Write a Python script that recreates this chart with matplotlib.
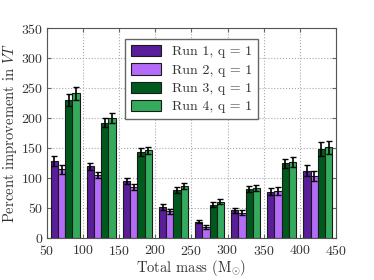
import numpy as np
import matplotlib
matplotlib.use('Agg')
import matplotlib.pyplot as plt

plt.rcParams['font.family'] = 'cmr10'
plt.rcParams['mathtext.fontset'] = 'cm'
plt.rcParams['axes.formatter.use_mathtext'] = True

# group starting masses (left edge of each group of bars)
group_left = [55, 105, 155, 205, 255, 305, 355, 405]
bar_width = 10

labels = ['Run 1, q = 1', 'Run 2, q = 1', 'Run 3, q = 1', 'Run 4, q = 1']
colors = ['#5a1e9a', '#b46cf8', '#005a1e', '#33aa5c']

run1 = [128, 119, 95, 51, 27, 46, 77, 112]
run2 = [114, 105, 85, 44, 18, 42, 78, 103]
run3 = [230, 192, 143, 79, 55, 81, 124, 148]
run4 = [241, 200, 146, 86, 60, 83, 126, 151]
err1 = [8, 6, 5, 5, 3, 4, 6, 9]
err2 = [8, 5, 5, 4, 3, 4, 7, 9]
err3 = [10, 8, 6, 5, 4, 5, 8, 11]
err4 = [11, 8, 6, 5, 4, 5, 8, 11]

runs = [run1, run2, run3, run4]
errs = [err1, err2, err3, err4]

fig = plt.figure(figsize=(3.74, 2.80), dpi=100)
ax = fig.add_axes([0.126, 0.151, 0.772, 0.749])

for j in range(4):
    x = np.array(group_left) + j * bar_width
    ax.bar(x, runs[j], width=bar_width, align='edge', color=colors[j],
           edgecolor='#1a1a1a', linewidth=0.8, label=labels[j], zorder=2)
    ax.errorbar(x + bar_width / 2, runs[j], yerr=errs[j], fmt='none',
                ecolor='black', elinewidth=1.2, capsize=2, capthick=1, zorder=3)

ax.set_xlim(50, 450)
ax.set_ylim(0, 350)
ax.set_xticks(range(50, 451, 50))
ax.set_yticks(range(0, 351, 50))
ax.grid(True, linestyle=':', color='#aaaaaa', linewidth=0.8, zorder=0)
ax.set_axisbelow(True)
for s in ax.spines.values():
    s.set_color('#555555')
ax.tick_params(labelsize=10, color='#666666', labelcolor='#333333',
               direction='in', top=True, right=True, length=3)
ax.tick_params(axis='x', pad=4.5)
ax.tick_params(axis='y', pad=3)

ax.set_xlabel(r'Total mass (M$_{\odot}$)', fontsize=10.5, labelpad=0,
              color='#333333')
ax.set_ylabel(r'Percent improvement in $VT$', fontsize=10.5, labelpad=1,
              color='#333333')

leg = ax.legend(loc='upper center', bbox_to_anchor=(0.5, 0.98), fontsize=10,
                fancybox=False, framealpha=1, edgecolor='#666666',
                handlelength=2.2, handleheight=0.9, labelspacing=0.35,
                borderpad=0.4)
for t in leg.get_texts():
    t.set_color('#333333')

fig.savefig('out.png', dpi=100)
